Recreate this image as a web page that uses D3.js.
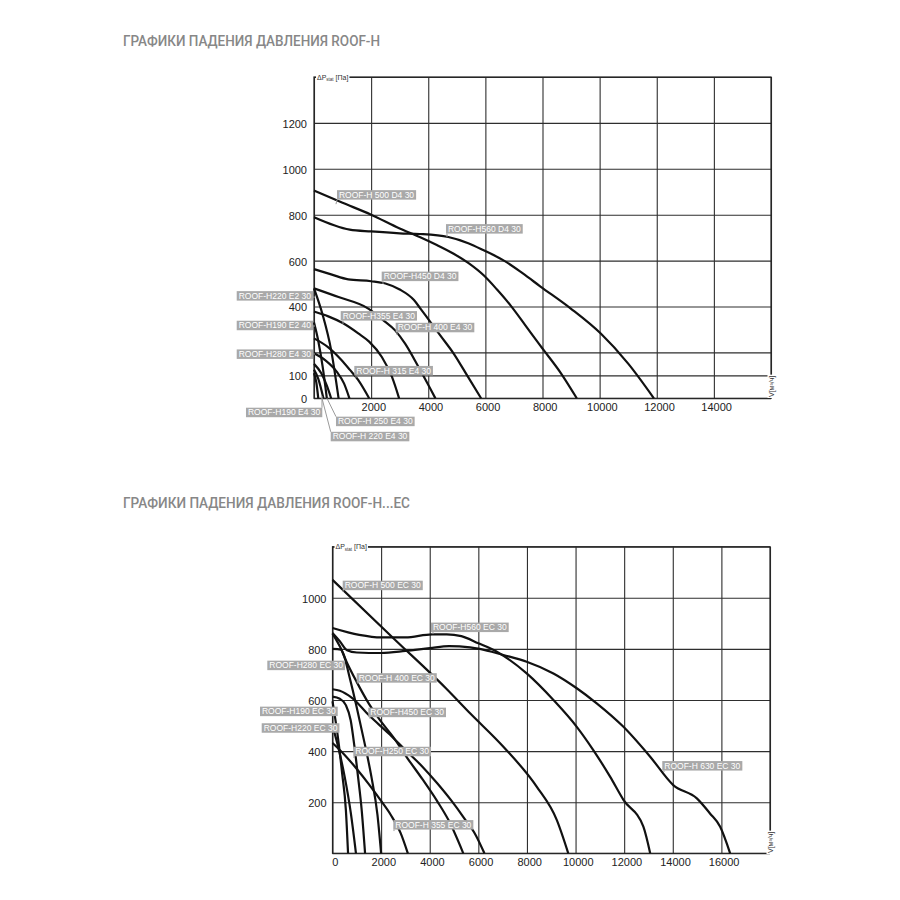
<!DOCTYPE html>
<html lang="ru">
<head>
<meta charset="UTF-8">
<style>
    body { margin: 0; background: #fff; }
    svg { display: block; }
    .title { font-family: Roboto, "Liberation Sans", sans-serif; font-size: 14px; font-weight: 500; fill: #878787; }
    .axis text { font-family: "Liberation Sans", Arial, sans-serif; font-size: 11px; fill: #222; }
    .axis line { stroke: #2e2e2e; stroke-width: 1.1; }
    .frame { fill: none; stroke: #222; stroke-width: 1.2; }
    .curve { fill: none; stroke: #111; stroke-width: 2.2; stroke-linejoin: round; }
    .tag rect { fill: #a9a9a9; }
    .tag text { font-family: "Liberation Sans", Arial, sans-serif; font-size: 8.5px; fill: #fff; }
    .tag line { stroke: #9a9a9a; stroke-width: 1; }
    .unit { font-family: "Liberation Sans", Arial, sans-serif; font-size: 7px; fill: #333; }
</style>
</head>
<body>
<script src="https://d3js.org/d3.v7.min.js"></script>
<script>
// ---- ROOF-H : расход [м3/ч], давление [Па]
var h560d4 = [[0,789],[1250,735],[2000,727],[3000,719],[3700,716],[4700,703],[5400,676],[5940,645],[6650,600],[7300,545],[7930,487],[8990,391],[10040,282],[11000,151],[11900,0]];
var h500d4 = [[0,905],[1000,852],[2000,800],[3000,740],[3700,703],[4300,668],[4890,630],[5400,590],[5940,536],[6400,475],[6880,405],[7400,318],[7930,228],[8630,112],[9200,0]];
var h450d4 = [[0,563],[600,540],[1200,518],[2000,510],[2500,500],[3000,474],[3500,428],[3720,392],[4000,345],[4420,274],[4890,195],[5360,100],[5850,0]];
var h400e4 = [[0,479],[860,441],[1900,391],[2400,343],[2840,296],[3190,238],[3660,136],[4250,0]];
var h355e4 = [[0,378],[500,357],[1020,327],[1550,283],[1930,247],[2375,180],[2730,93],[2980,0]];
var h315e4 = [[0,261],[500,222],[960,167],[1250,125],[1545,80],[1930,0]];
var h280e4 = [[0,196],[400,165],[800,115],[1050,65],[1240,0]];
var h220e2 = [[0,479],[300,365],[600,210],[860,0]];
var h190e2 = [[0,330],[150,250],[300,140],[450,0]];
var h250e4 = [[0,150],[250,110],[450,55],[600,0]];
var h220e4 = [[0,125],[150,85],[330,0]];
var h190e4 = [[0,110],[80,70],[150,0]];

// ---- ROOF-H...EC
var h630ec = [[0,862],[300,830],[600,795],[1000,786],[2000,784],[3000,792],[4000,803],[4800,811],[5660,806],[6060,800],[7030,776],[7990,750],[9090,704],[10050,646],[10870,587],[11970,495],[13070,378],[14020,267],[14990,215],[15530,156],[15950,104],[16360,0]];
var h560ec = [[0,882],[1100,855],[2000,845],[3000,845],[4100,857],[4700,857],[5300,850],[6000,822],[6760,789],[7990,704],[9090,600],[10050,495],[10730,404],[11420,300],[11970,209],[12790,104],[13070,0]];
var h500ec = [[0,1070],[2570,836],[4665,646],[5660,548],[7030,417],[8400,261],[9230,130],[9700,0]];
var h450ec = [[0,642],[300,636],[800,608],[1500,540],[2300,470],[3000,404],[3700,339],[4300,275],[4900,205],[5400,140],[5900,70],[6250,0]];
var h400ec = [[0,860],[300,810],[600,745],[1000,670],[1500,585],[2000,515],[2500,455],[3100,370],[3700,290],[4300,205],[4800,125],[5380,0]];
var h355ec = [[0,432],[500,385],[1000,330],[1500,270],[2000,205],[2400,150],[2800,80],[3100,0]];
var h280ec = [[0,800],[350,797],[450,780],[700,690],[1000,570],[1300,440],[1600,300],[1850,150],[2000,0]];
var h250ec = [[0,613],[300,605],[550,580],[750,520],[900,420],[1050,300],[1200,170],[1340,0]];
var h220ec = [[0,500],[250,410],[500,300],[750,160],[965,0]];
var h190ec = [[0,595],[200,470],[400,310],[550,170],[640,0]];

// сетка и подписи осей
var topGridX = [0,2000,4000,6000,8000,10000,12000,14000,16000];
var topXLabels = [2000,4000,6000,8000,10000,12000,14000];
var topGridY = [0,100,200,400,600,800,1000,1200,1400];
var topYLabels = [0,100,400,600,800,1000,1200];   // 200 закрыто табличкой ROOF-H280
var botGridX = [0,2000,4000,6000,8000,10000,12000,14000,16000,18000];
var botXLabels = [0,2000,4000,6000,8000,10000,12000,14000,16000];
var botGridY = [0,200,400,600,800,1000,1200];
var botYLabels = [200,400,600,800,1000];

// подписи кривых: at = левый верхний угол таблички, tip = куда указывает (в единицах графика)
var topTags = [
    {t:"ROOF-H 500 D4 30", at:[805,907], tip:[770,846]},
    {t:"ROOF-H560 D4 30", at:[4621,759], tip:[4656,703]},
    {t:"ROOF-H450 D4 30", at:[2370,552], tip:[2416,498]},
    {t:"ROOF-H220 E2 30", at:[-2706,467], tip:[35,441]},
    {t:"ROOF-H355 E4 30", at:[935,380], tip:[1015,324]},
    {t:"ROOF-H190 E2 40", at:[-2706,338], tip:[35,315]},
    {t:"ROOF-H 400 E4 30", at:[2860,329], tip:[2906,276]},
    {t:"ROOF-H280 E4 30", at:[-2706,213], tip:[35,193]},
    {t:"ROOF-H 315 E4 30", at:[1411,141], tip:[1470,89]},
    {t:"ROOF-H190 E4 30", at:[-2381,-41], tip:[280,10]},
    {t:"ROOF-H  250 E4 30", at:[770,-80], tip:[455,0]},
    {t:"ROOF-H 220 E4 30", at:[585,-146], tip:[280,0]}
];
var botTags = [
    {t:"ROOF-H 500 EC 30", at:[420,1067], tip:[432,1023]},
    {t:"ROOF-H560 EC 30", at:[4052,903], tip:[4135,858]},
    {t:"ROOF-H280 EC 30", at:[-2682,754], tip:[309,737]},
    {t:"ROOF-H 400 EC 30", at:[996,705], tip:[1049,663]},
    {t:"ROOF-H190 EC 30", at:[-2983,574], tip:[62,557]},
    {t:"ROOF-H450 EC 30", at:[1473,570], tip:[1543,526]},
    {t:"ROOF-H220 EC 30", at:[-2913,509], tip:[62,494]},
    {t:"ROOF-H250 EC 30", at:[856,417], tip:[885,373]},
    {t:"ROOF-H 355 EC 30", at:[2501,130], tip:[2530,87]},
    {t:"ROOF-H 630 EC 30", at:[13568,361], tip:[13638,318]}
];

var svg = d3.select("body").append("svg").attr("width", 900).attr("height", 900);

function drawChart(c) {
    var x = d3.scaleLinear().domain([0, c.xMax]).range([c.left, c.right]);
    var y = d3.scaleLinear().domain([0, c.yMax]).range([c.bottom, c.top]);
    var w = c.right - c.left, h = c.bottom - c.top;

    svg.append("text").attr("class", "title")
        .attr("x", 123).attr("y", c.titleY)
        .attr("textLength", c.titleLen).attr("lengthAdjust", "spacingAndGlyphs")
        .text(c.title);

    var g = svg.append("g");

    var ax = g.append("g").attr("class", "axis")
        .attr("transform", "translate(0," + c.bottom + ")")
        .call(d3.axisBottom(x).tickValues(c.gridX).tickSize(-h).tickPadding(5)
            .tickFormat(function(d) { return c.xLabels.indexOf(d) >= 0 ? d : ""; }));
    ax.select(".domain").remove();
    ax.selectAll("text").attr("dx", "0.2em");

    var ay = g.append("g").attr("class", "axis")
        .attr("transform", "translate(" + c.left + ",0)")
        .call(d3.axisLeft(y).tickValues(c.gridY).tickSize(-w).tickPadding(c.yPad)
            .tickFormat(function(d) { return c.yLabels.indexOf(d) >= 0 ? d : ""; }));
    ay.select(".domain").remove();
    ay.selectAll("text").attr("dy", "0.4em");
    g.selectAll(".axis").attr("font-size", null).attr("font-family", null);

    g.append("rect").attr("class", "frame")
        .attr("x", x(0)).attr("y", y(c.yMax)).attr("width", w).attr("height", h);

    var line = d3.line()
        .x(function(d) { return x(d[0]); })
        .y(function(d) { return y(d[1]); })
        .curve(d3.curveMonotoneX);

    g.selectAll(".curve").data(c.series).enter().append("path")
        .attr("class", "curve")
        .attr("d", function(d) { return line(d); });

    // подписи моделей
    var tags = g.selectAll(".tag").data(c.tags).enter().append("g").attr("class", "tag");
    tags.each(function(d) {
        var sel = d3.select(this);
        var bx = x(d.at[0]), by = y(d.at[1]);
        var tx = x(d.tip[0]), ty = y(d.tip[1]);
        var txt = sel.append("text").attr("x", bx + 2).attr("y", by + 7.6).text(d.t);
        var tw = txt.node().getComputedTextLength() + 4, th = 9.5;
        var sx = Math.max(bx, Math.min(tx, bx + tw)), sy = Math.max(by, Math.min(ty, by + th));
        sel.insert("line", "text").attr("x1", sx).attr("y1", sy).attr("x2", tx).attr("y2", ty);
        sel.insert("rect", "text").attr("x", bx).attr("y", by).attr("width", tw).attr("height", th);
    });

    // ΔPstat [Па]
    var yt = g.append("g");
    var ytt = yt.append("text").attr("class", "unit").attr("x", c.left + 3).attr("y", c.top + 2.5);
    ytt.append("tspan").text("ΔP");
    ytt.append("tspan").attr("font-size", "4.5px").attr("dy", "1.5").text("stat");
    ytt.append("tspan").attr("dy", "-1.5").text(" [Па]");
    var b = ytt.node().getBBox();
    yt.insert("rect", "text").attr("x", b.x - 1).attr("y", b.y).attr("width", b.width + 2).attr("height", b.height).attr("fill", "#fff");

    // V[м³/ч]
    var xt = g.append("g").attr("transform", "translate(" + (c.right + 2.5) + "," + c.vY + ") rotate(-90)");
    var xtt = xt.append("text").attr("class", "unit").attr("x", 0).attr("y", 0).text("V[м³/ч]");
    var b2 = xtt.node().getBBox();
    xt.insert("rect", "text").attr("x", b2.x - 1).attr("y", b2.y).attr("width", b2.width + 2).attr("height", b2.height).attr("fill", "#fff");
}

drawChart({
    title: "ГРАФИКИ ПАДЕНИЯ ДАВЛЕНИЯ ROOF-H", titleY: 46.3, titleLen: 257,
    left: 314, right: 771, top: 77, bottom: 398.3, xMax: 16000, yMax: 1400,
    gridX: topGridX, xLabels: topXLabels, gridY: topGridY, yLabels: topYLabels, yPad: 7,
    vY: 397,
    series: [h560d4, h500d4, h450d4, h400e4, h355e4, h315e4, h280e4, h220e2, h190e2, h250e4, h220e4, h190e4],
    tags: topTags
});

drawChart({
    title: "ГРАФИКИ ПАДЕНИЯ ДАВЛЕНИЯ ROOF-H...EC", titleY: 508.3, titleLen: 287,
    left: 332.5, right: 770, top: 546.7, bottom: 853.3, xMax: 18000, yMax: 1200,
    gridX: botGridX, xLabels: botXLabels, gridY: botGridY, yLabels: botYLabels, yPad: 6,
    vY: 853,
    series: [h630ec, h560ec, h500ec, h450ec, h400ec, h355ec, h280ec, h250ec, h220ec, h190ec],
    tags: botTags
});
</script>
</body>
</html>
